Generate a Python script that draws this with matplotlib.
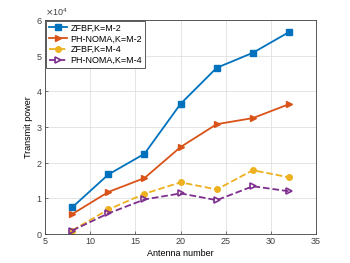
import numpy as np
import matplotlib.pyplot as plt

# data (units of 1e4)
antennas = [8, 12, 16, 20, 24, 28, 32]
zfbf_m2 = [0.75, 1.67, 2.25, 3.65, 4.66, 5.08, 5.66]
noma_m2 = [0.56, 1.18, 1.57, 2.44, 3.08, 3.25, 3.64]
zfbf_m4 = [0.10, 0.69, 1.13, 1.45, 1.25, 1.79, 1.59]
noma_m4 = [0.10, 0.58, 0.97, 1.14, 0.95, 1.34, 1.20]
labels = ['ZFBF,K=M-2', 'PH-NOMA,K=M-2', 'ZFBF,K=M-4', 'PH-NOMA,K=M-4']

plt.rcParams['font.family'] = ['Liberation Sans', 'DejaVu Sans']
plt.rcParams['font.size'] = 6.5

fig = plt.figure(figsize=(3.5, 2.63), dpi=100)
ax = fig.add_axes([0.129, 0.110, 0.774, 0.814])

x = np.array(antennas)
ax.plot(x, np.array(zfbf_m2) * 1e4, '-s', color='#0072BD', lw=1.3, ms=4, label=labels[0])
ax.plot(x, np.array(noma_m2) * 1e4, '->', color='#D95319', lw=1.3, ms=5, label=labels[1])
ax.plot(x, np.array(zfbf_m4) * 1e4, '--o', color='#EDB120', lw=1.3, ms=4, label=labels[2])
ax.plot(x, np.array(noma_m4) * 1e4, '-->', color='#7E2F8E', lw=1.3, ms=5,
        markerfacecolor='none', markeredgewidth=1.2, label=labels[3])

ax.set_xlim(5, 35)
ax.set_ylim(0, 6e4)
ax.set_xticks(np.arange(5, 36, 5))
ax.set_yticks(np.arange(0, 6.1e4, 1e4))
ax.ticklabel_format(axis='y', style='sci', scilimits=(4, 4), useMathText=True)
ax.yaxis.get_offset_text().set_fontsize(6.5)
ax.yaxis.get_offset_text().set_color('#404040')
ax.grid(True, color='#e0e0e0', lw=0.6)
ax.tick_params(direction='in', length=2.5, width=0.5, colors='#404040', pad=2)
for s in ax.spines.values():
    s.set_linewidth(0.6)
    s.set_color('#404040')
ax.set_xlabel('Antenna number', labelpad=2)
ax.set_ylabel('Transmit power', labelpad=2)

leg = ax.legend(loc='upper left', fancybox=False, edgecolor='#404040',
                framealpha=1, borderpad=0.3, labelspacing=0.2,
                handlelength=2.0, handletextpad=0.4, borderaxespad=0.1)
leg.get_frame().set_linewidth(0.6)

fig.savefig('out.png', dpi=100)
